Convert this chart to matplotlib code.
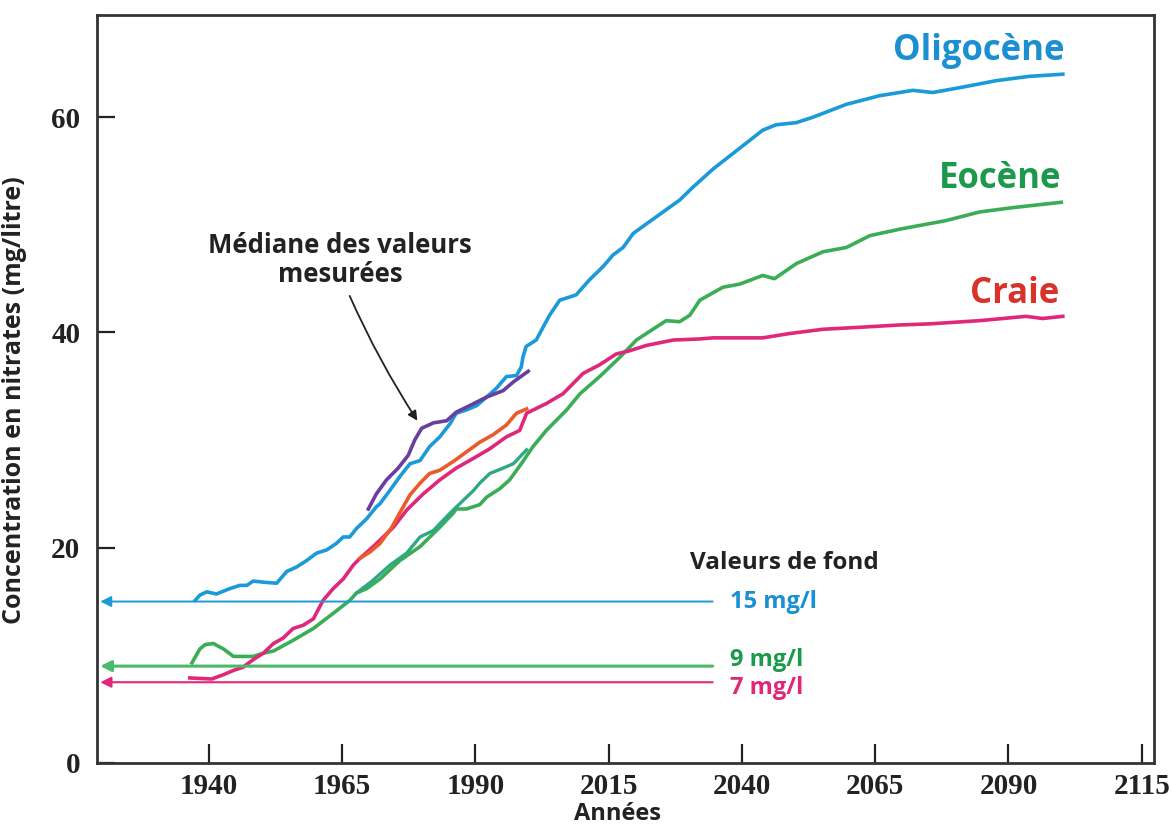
import matplotlib
matplotlib.use("Agg")
import matplotlib.pyplot as plt

plt.rcParams['font.family'] = ['Open Sans', 'DejaVu Sans']

# Oligocène (blue)
oli_x = [1937.4, 1938.3, 1939.6, 1941.4, 1943.9, 1945.8, 1947.1, 1948.3, 1950.2, 1952.7,
         1954.6, 1956.4, 1958.3, 1960.2, 1962.1, 1963.9, 1965.2, 1966.4, 1967.7, 1969.6,
         1971.4, 1972.1, 1973.9, 1975.8, 1977.7, 1979.6, 1981.4, 1983.3, 1985.2, 1986.4,
         1988.3, 1990.2, 1992.1, 1993.9, 1995.8, 1997.7, 1998.6, 1998.9, 1999.5, 2001.4,
         2002.7, 2003.9, 2005.8, 2007.7, 2008.9, 2011.4, 2013.9, 2015.8, 2017.7, 2019.6,
         2022.1, 2025.2, 2028.3, 2030.8, 2034.6, 2039.0, 2043.9, 2046.4, 2050.2, 2053.3,
         2059.6, 2065.8, 2072.1, 2075.8, 2081.4, 2087.7, 2093.9, 2100.2]
oli_y = [15.1, 15.6, 15.9, 15.7, 16.2, 16.5, 16.5, 16.9, 16.8, 16.7,
         17.8, 18.2, 18.8, 19.5, 19.8, 20.4, 21.0, 21.0, 21.8, 22.7,
         23.8, 24.1, 25.3, 26.6, 27.8, 28.1, 29.4, 30.3, 31.5, 32.5,
         32.8, 33.2, 34.0, 34.8, 35.9, 36.0, 36.8, 37.7, 38.7, 39.3,
         40.5, 41.6, 43.0, 43.3, 43.5, 44.9, 46.1, 47.2, 47.9, 49.2,
         50.1, 51.2, 52.3, 53.5, 55.2, 56.9, 58.8, 59.3, 59.5, 60.0,
         61.2, 62.0, 62.5, 62.3, 62.8, 63.4, 63.8, 64.0]

# Eocène (green)
eoc_x = [1936.8, 1938.3, 1939.3, 1940.8, 1942.7, 1944.6, 1948.3, 1950.2, 1952.1, 1955.8,
         1959.6, 1963.3, 1966.4, 1967.7, 1969.6, 1972.1, 1975.8, 1979.6, 1983.3, 1985.8,
         1986.4, 1988.3, 1990.8, 1992.1, 1994.6, 1996.4, 1998.6, 2000.8, 2003.3, 2007.1,
         2009.6, 2013.3, 2017.1, 2020.2, 2023.9, 2025.8, 2028.3, 2030.2, 2032.1, 2036.4,
         2039.6, 2043.9, 2046.1, 2050.2, 2055.2, 2059.6, 2064.0, 2069.6, 2078.3, 2084.6,
         2090.8, 2099.9]
eoc_y = [9.3, 10.6, 11.0, 11.1, 10.6, 9.9, 9.9, 10.2, 10.4, 11.4,
         12.5, 13.9, 15.1, 15.8, 16.2, 17.1, 18.8, 20.1, 21.9, 23.2,
         23.6, 23.6, 24.0, 24.7, 25.5, 26.3, 27.8, 29.4, 30.9, 32.8,
         34.3, 35.9, 37.7, 39.3, 40.5, 41.1, 41.0, 41.6, 43.0, 44.2,
         44.5, 45.3, 45.0, 46.4, 47.5, 47.9, 49.0, 49.6, 50.4, 51.2,
         51.6, 52.1]

# Eocène, measured (teal green)
eoc_m_x = [1967.7, 1970.6, 1974.0, 1977.1, 1979.6, 1982.1, 1985.2, 1987.7, 1989.6, 1990.8,
           1992.7, 1995.2, 1997.1, 1999.6]
eoc_m_y = [15.8, 16.9, 18.4, 19.5, 21.0, 21.6, 23.2, 24.4, 25.3, 26.0,
           26.9, 27.4, 27.8, 29.1]

# Craie (pink)
cra_x = [1936.4, 1940.5, 1942.7, 1944.6, 1946.4, 1948.3, 1950.2, 1952.1, 1953.9, 1955.8,
         1957.7, 1959.6, 1961.4, 1963.3, 1965.2, 1967.1, 1968.3, 1970.8, 1974.6, 1977.1,
         1980.2, 1983.3, 1986.4, 1989.6, 1992.7, 1995.8, 1998.3, 1999.6, 2003.3, 2006.4,
         2010.2, 2013.3, 2016.4, 2018.9, 2022.1, 2027.1, 2032.1, 2034.6, 2043.9, 2048.9,
         2055.2, 2062.7, 2069.6, 2075.2, 2084.6, 2093.3, 2096.4, 2100.2]
cra_y = [7.9, 7.8, 8.2, 8.6, 8.9, 9.6, 10.2, 11.1, 11.6, 12.5,
         12.8, 13.4, 15.1, 16.2, 17.1, 18.4, 19.0, 20.1, 21.9, 23.5,
         25.0, 26.3, 27.4, 28.3, 29.2, 30.3, 30.9, 32.5, 33.4, 34.3,
         36.2, 37.0, 38.0, 38.3, 38.8, 39.3, 39.4, 39.5, 39.5, 39.9,
         40.3, 40.5, 40.7, 40.8, 41.1, 41.5, 41.3, 41.5]

# Craie, measured (orange)
cra_m_x = [1968.3, 1970.2, 1972.1, 1974.3, 1976.1, 1977.7, 1979.6, 1981.4, 1983.3, 1985.8,
           1988.3, 1990.8, 1993.3, 1995.8, 1997.7, 1999.6]
cra_m_y = [19.0, 19.6, 20.4, 21.9, 23.5, 24.9, 26.0, 26.9, 27.2, 28.0,
           28.9, 29.8, 30.5, 31.4, 32.5, 32.9]

# Médiane des valeurs mesurées (purple)
med_x = [1969.9, 1971.4, 1973.3, 1975.5, 1977.4, 1978.6, 1979.9, 1982.1, 1984.6, 1986.4,
         1988.9, 1992.1, 1995.2, 1997.1, 1999.9]
med_y = [23.6, 25.0, 26.3, 27.4, 28.6, 30.0, 31.1, 31.6, 31.8, 32.6,
         33.2, 34.0, 34.6, 35.4, 36.4]

# valeurs de fond
fond_levels = [15, 9, 7.5]
fond_labels = ["15 mg/l", "9 mg/l", "7 mg/l"]
fond_label_y = [15.0, 9.6, 6.95]
fond_colors = ["#1e9ad6", "#4cb86a", "#e0287a"]
fond_text_colors = ["#1a8fd2", "#1b9a4c", "#e0287a"]
fond_widths = [1.4, 2.2, 1.5]

xticks = [1940, 1965, 1990, 2015, 2040, 2065, 2090, 2115]
yticks = [0, 20, 40, 60]

BLUE = "#1a9ad8"
GREEN = "#3aae57"
TEAL = "#2fa884"
PINK = "#e0287a"
ORANGE = "#ec5a2c"
PURPLE = "#6a3da0"
INK = "#222222"

fig = plt.figure(figsize=(11.72, 8.25), dpi=100)
ax = fig.add_axes([0.0828, 0.0752, 0.9018, 0.9066])

ax.plot(oli_x, oli_y, color=BLUE, lw=2.6)
ax.plot(eoc_x, eoc_y, color=GREEN, lw=2.6)
ax.plot(eoc_m_x, eoc_m_y, color=TEAL, lw=2.4)
ax.plot(cra_x, cra_y, color=PINK, lw=2.6)
ax.plot(cra_m_x, cra_m_y, color=ORANGE, lw=2.6)
ax.plot(med_x, med_y, color=PURPLE, lw=2.6)

for lvl, lab, ly, c, tc, w in zip(fond_levels, fond_labels, fond_label_y, fond_colors,
                                  fond_text_colors, fond_widths):
    ax.annotate('', xy=(1919.6, lvl), xytext=(2034.5, lvl),
                arrowprops=dict(arrowstyle='-|>', color=c, lw=w, mutation_scale=16,
                                shrinkA=0, shrinkB=0))
    ax.text(2037.8, ly, lab, color=tc, fontsize=17, fontweight='bold', ha='left', va='center')

ax.text(2048, 18.6, "Valeurs de fond", fontsize=17.5, fontweight='bold', ha='center',
        va='center', color=INK)

ax.text(2100.6, 66.2, "Oligocène", color="#1a8fd2", fontsize=25, fontweight='bold',
        ha='right', va='center')
ax.text(2100.0, 54.3, "Eocène", color="#1b9a4c", fontsize=25, fontweight='bold',
        ha='right', va='center')
ax.text(2099.6, 43.6, "Craie", color="#d8322a", fontsize=25, fontweight='bold',
        ha='right', va='center')

ax.text(1964.6, 46.7, "Médiane des valeurs\nmesurées", fontsize=18.5, fontweight='bold',
        ha='center', va='center', color=INK, linespacing=1.1)
ax.annotate('', xy=(1979.1, 31.8), xytext=(1966.4, 43.4),
            arrowprops=dict(arrowstyle='-|>', color=INK, lw=1.3, mutation_scale=14,
                            shrinkA=0, shrinkB=0, connectionstyle='arc3,rad=0.04'))

ax.set_xlim(1919, 2117.3)
ax.set_ylim(0, 69.5)
ax.set_xticks(xticks)
ax.set_yticks(yticks)
ax.set_xticklabels([str(t) for t in xticks], family='Liberation Serif', fontweight='bold',
                   fontsize=21)
ax.set_yticklabels([str(t) for t in yticks], family='Liberation Serif', fontweight='bold',
                   fontsize=21)
ax.tick_params(axis='x', direction='in', length=14, width=1.6, pad=7, colors=INK)
ax.tick_params(axis='y', direction='in', length=13, width=1.6, pad=12, colors=INK)
for s in ax.spines.values():
    s.set_linewidth(2.0)
    s.set_color('#333333')

ax.set_ylabel("Concentration en nitrates (mg/litre)", fontsize=18, fontweight='bold',
              color=INK)
ax.yaxis.set_label_coords(-0.066, 0.485)
ax.set_xlabel("Années", fontsize=17, fontweight='bold', color=INK)
ax.xaxis.set_label_coords(0.492, -0.052)

fig.savefig("out.png", dpi=100)
